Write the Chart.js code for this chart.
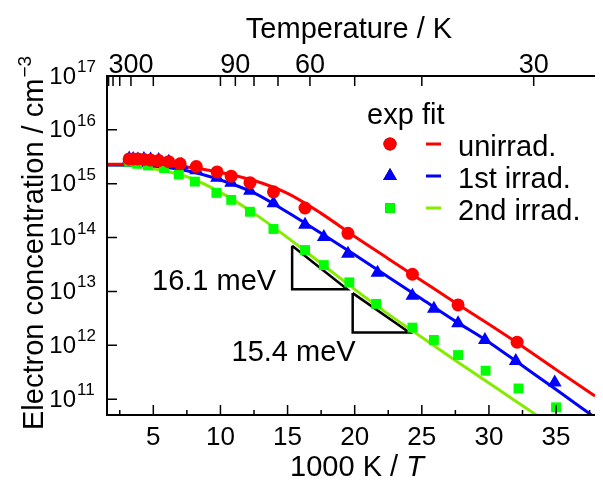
<!DOCTYPE html>
<html>
<head>
<meta charset="utf-8">
<script src="https://cdn.jsdelivr.net/npm/chart.js@4.4.1/dist/chart.umd.min.js"></script>
<style>
body { margin: 0; background: #fff; }
canvas { display: block; }
</style>
</head>
<body>
<canvas id="cav" width="603" height="481"></canvas>
<script>
// measured points: x = 1000 K / T, y = log10(n / cm^-3)
var unirradX   = [3.2, 3.5, 3.85, 4.3, 4.8, 5.4, 6.15, 7.0, 8.2, 9.75, 10.8, 12.2, 13.95, 16.3, 19.5, 24.3, 27.7, 32.1];
var unirradLog = [15.46, 15.46, 15.46, 15.45, 15.44, 15.43, 15.41, 15.37, 15.32, 15.22, 15.14, 15.02, 14.85, 14.55, 14.08, 13.32, 12.75, 12.06];

var irrad1X   = [3.2, 3.5, 3.85, 4.3, 4.8, 5.4, 6.15, 7.1, 8.2, 9.75, 10.8, 12.2, 13.95, 16.3, 17.7, 19.5, 21.7, 24.3, 25.9, 27.7, 29.7, 32.0, 34.9];
var irrad1Log = [15.47, 15.46, 15.45, 15.46, 15.45, 15.44, 15.41, 15.35, 15.25, 15.11, 15.02, 14.87, 14.64, 14.24, 14.01, 13.70, 13.35, 12.92, 12.68, 12.41, 12.10, 11.71, 11.31];

var irrad2X   = [3.2, 3.8, 4.6, 5.8, 6.9, 8.1, 9.7, 10.8, 12.2, 13.95, 16.3, 17.7, 19.6, 21.6, 24.3, 25.9, 27.7, 29.75, 32.2, 35.0];
var irrad2Log = [15.41, 15.37, 15.34, 15.29, 15.17, 15.04, 14.83, 14.70, 14.48, 14.16, 13.77, 13.49, 13.17, 12.77, 12.33, 12.10, 11.82, 11.53, 11.20, 10.85];

// fit curves
var fitX       = [1.55, 3, 5, 7.5, 10, 12.5, 15, 17.5, 20, 22.5, 25, 27.5, 30, 32.5, 35, 37.9];
var unirradFit = [15.36, 15.36, 15.35, 15.31, 15.21, 15.06, 14.82, 14.45, 14.02, 13.61, 13.20, 12.79, 12.39, 11.98, 11.55, 11.06];
var irrad1Fit  = [15.35, 15.35, 15.33, 15.24, 15.07, 14.83, 14.47, 14.08, 13.68, 13.27, 12.86, 12.45, 12.06, 11.62, 11.18, 10.66];
var irrad2Fit  = [15.35, 15.34, 15.28, 15.13, 14.84, 14.45, 14.00, 13.52, 13.04, 12.58, 12.15, 11.72, 11.30, 10.88, 10.46, 9.97];

// slope triangles
var slope1X   = [15.34, 15.34, 19.44, 15.34];
var slope1Log = [13.85, 13.04, 13.04, 13.85];
var slope2X   = [19.85, 19.85, 24.07, 19.85];
var slope2Log = [12.97, 12.24, 12.24, 12.97];
var slopeLabels = ['16.1 meV', '15.4 meV'];

var seriesNames = ['unirrad.', '1st irrad.', '2nd irrad.'];
var markerColours = ['#ff0000', '#0000ff', '#00ff00'];
var lineColours = ['#ff0000', '#0000ff', '#84ec00'];
var markerStyles = ['circle', 'triangle', 'rect'];
var markerSizes = [6.5, 8, 7];

var tempTicks = [600, 500, 400, 300, 200, 100, 90, 80, 70, 60, 50, 40, 30];
var tempLabels = [300, 90, 60, 30];
var bottomTicks = [5, 10, 15, 20, 25, 30, 35];
var bottomMinor = [2.5, 7.5, 12.5, 17.5, 22.5, 27.5, 32.5, 37.5];
var decades = [11, 12, 13, 14, 15, 16, 17];

var FONT = "'Liberation Sans', Arial, sans-serif";

function toPoints(xs, logs) {
    return xs.map(function (x, i) {
        return {x: x, y: Math.pow(10, logs[i])};
    });
}

function markerSet(xs, logs, i) {
    return {
        data: toPoints(xs, logs),
        showLine: false,
        pointStyle: markerStyles[i],
        pointRadius: markerSizes[i],
        pointBackgroundColor: markerColours[i],
        pointBorderColor: markerColours[i],
        pointBorderWidth: 0,
        order: 0
    };
}

function fitSet(logs, i) {
    return {
        data: toPoints(fitX, logs),
        showLine: true,
        borderColor: lineColours[i],
        borderWidth: 3,
        pointRadius: 0,
        cubicInterpolationMode: 'monotone',
        order: 1
    };
}

function slopeSet(xs, logs) {
    return {
        data: toPoints(xs, logs),
        showLine: true,
        borderColor: '#000',
        borderWidth: 2.5,
        pointRadius: 0,
        tension: 0,
        order: 2
    };
}

var decor = {
    id: 'decor',
    afterDatasetsDraw: function (chart) {
        var ctx = chart.ctx;
        var a = chart.chartArea;
        var xs = chart.scales.x, ys = chart.scales.y, xt = chart.scales.x2;
        ctx.save();
        ctx.strokeStyle = '#000';
        ctx.fillStyle = '#000';
        ctx.lineWidth = 2;

        // axes lines
        ctx.beginPath();
        ctx.moveTo(a.right, a.top); ctx.lineTo(a.left, a.top);
        ctx.lineTo(a.left, a.bottom); ctx.lineTo(a.right, a.bottom);
        ctx.stroke();

        // ticks (inside)
        ctx.lineWidth = 1.5;
        ctx.beginPath();
        bottomTicks.forEach(function (v) {
            var px = xs.getPixelForValue(v);
            ctx.moveTo(px, a.bottom); ctx.lineTo(px, a.bottom - 10);
        });
        bottomMinor.forEach(function (v) {
            var px = xs.getPixelForValue(v);
            if (px > a.right) return;
            ctx.moveTo(px, a.bottom); ctx.lineTo(px, a.bottom - 5);
        });
        tempTicks.forEach(function (t) {
            var px = xt.getPixelForValue(1000 / t);
            ctx.moveTo(px, a.top); ctx.lineTo(px, a.top + 10);
        });
        decades.forEach(function (d) {
            var py = ys.getPixelForValue(Math.pow(10, d));
            ctx.moveTo(a.left, py); ctx.lineTo(a.left + 10, py);
        });
        ctx.stroke();

        // tick labels
        ctx.textBaseline = 'alphabetic';
        ctx.textAlign = 'center';
        ctx.font = '26px ' + FONT;
        bottomTicks.forEach(function (v) {
            ctx.fillText(String(v), xs.getPixelForValue(v), a.bottom + 30);
        });
        ctx.font = '27px ' + FONT;
        tempLabels.forEach(function (t) {
            ctx.fillText(String(t), xt.getPixelForValue(1000 / t), a.top - 3);
        });
        decades.forEach(function (d) {
            var py = ys.getPixelForValue(Math.pow(10, d));
            ctx.font = '24px ' + FONT;
            ctx.textAlign = 'right';
            ctx.fillText('10', 76, py + 7.5);
            ctx.font = '17px ' + FONT;
            ctx.textAlign = 'left';
            ctx.fillText(String(d), 77, py - 4);
        });

        // axis titles
        ctx.font = '29px ' + FONT;
        ctx.textAlign = 'center';
        ctx.fillText('Temperature / K', 349, 38);

        var t1 = '1000 K / ';
        ctx.font = '29px ' + FONT;
        var w1 = ctx.measureText(t1).width;
        ctx.font = 'italic 29px ' + FONT;
        var w2 = ctx.measureText('T').width;
        var sx = 357 - (w1 + w2) / 2;
        ctx.textAlign = 'left';
        ctx.font = '29px ' + FONT;
        ctx.fillText(t1, sx, 476);
        ctx.font = 'italic 29px ' + FONT;
        ctx.fillText('T', sx + w1, 476);

        ctx.save();
        ctx.translate(43, 430);
        ctx.rotate(-Math.PI / 2);
        ctx.font = '29px ' + FONT;
        var wy = ctx.measureText('Electron concentration / cm').width;
        ctx.fillText('Electron concentration / cm', 0, 0);
        ctx.font = '19px ' + FONT;
        ctx.fillText('\u22123', wy + 1, -12);
        ctx.restore();

        // slope labels
        ctx.font = '29px ' + FONT;
        ctx.textAlign = 'right';
        ctx.fillText(slopeLabels[0], xs.getPixelForValue(slope1X[0]) - 16, ys.getPixelForValue(Math.pow(10, slope1Log[1])) + 1);
        ctx.fillText(slopeLabels[1], xs.getPixelForValue(slope2X[0]) + 3, ys.getPixelForValue(Math.pow(10, slope2Log[1])) + 29);

        // legend
        ctx.textAlign = 'left';
        ctx.font = '29px ' + FONT;
        ctx.fillText('exp', 367, 124);
        ctx.fillText('fit', 422, 124);
        seriesNames.forEach(function (name, i) {
            var cy = 144 + i * 32;
            Chart.helpers.drawPoint(ctx, {
                pointStyle: markerStyles[i],
                radius: markerSizes[i],
                borderWidth: 0
            }, 390, cy);
            ctx.fillStyle = markerColours[i];
            ctx.fill();
            ctx.strokeStyle = lineColours[i];
            ctx.lineWidth = 3;
            ctx.beginPath();
            ctx.moveTo(426, cy); ctx.lineTo(441, cy);
            ctx.stroke();
            ctx.fillStyle = '#000';
            ctx.fillText(name, 458, cy + 12);
        });
        ctx.restore();
    }
};

var chart = new Chart(document.getElementById('cav'), {
    type: 'scatter',
    data: {
        datasets: [
            markerSet(unirradX, unirradLog, 0),
            markerSet(irrad1X, irrad1Log, 1),
            markerSet(irrad2X, irrad2Log, 2),
            fitSet(unirradFit, 0),
            fitSet(irrad1Fit, 1),
            fitSet(irrad2Fit, 2),
            slopeSet(slope1X, slope1Log),
            slopeSet(slope2X, slope2Log)
        ]
    },
    options: {
        responsive: false,
        animation: false,
        devicePixelRatio: 1,
        layout: {padding: 0},
        plugins: {legend: {display: false}, tooltip: {enabled: false}},
        scales: {
            x: {
                type: 'linear', position: 'bottom', min: 1.55, max: 37.9,
                grid: {display: false}, border: {display: false}, ticks: {display: false},
                afterFit: function (s) { s.height = 66; }
            },
            x2: {
                type: 'linear', position: 'top', min: 1.55, max: 37.9,
                grid: {display: false}, border: {display: false}, ticks: {display: false},
                afterFit: function (s) { s.height = 76; }
            },
            y: {
                type: 'logarithmic', min: 5.1e10, max: 1e17,
                grid: {display: false}, border: {display: false}, ticks: {display: false},
                afterFit: function (s) { s.width = 107; }
            }
        }
    },
    plugins: [decor]
});
</script>
</body>
</html>
